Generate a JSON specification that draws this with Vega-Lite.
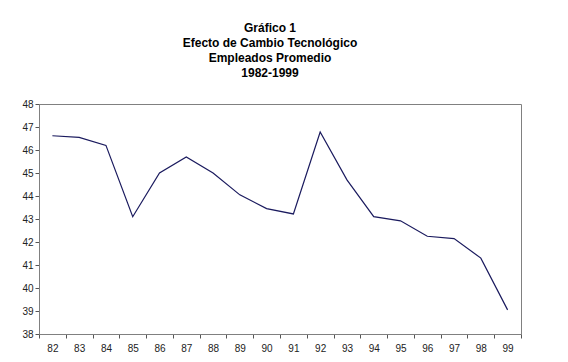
{
  "$schema": "https://vega.github.io/schema/vega-lite/v6.json",
  "autosize": "none",
  "width": 482,
  "height": 230,
  "padding": {"left": 39, "top": 104, "right": 47, "bottom": 28},
  "background": "white",
  "title": {
    "text": ["Gráfico 1", "Efecto de Cambio Tecnológico", "Empleados Promedio", "1982-1999"],
    "font": "Liberation Sans",
    "fontSize": 12,
    "fontWeight": "bold",
    "lineHeight": 15,
    "color": "#000000",
    "anchor": "middle",
    "baseline": "bottom",
    "offset": 7,
    "dx": -10
  },
  "data": {
    "values": [
      {"year": "82", "value": 46.62},
      {"year": "83", "value": 46.55},
      {"year": "84", "value": 46.2},
      {"year": "85", "value": 43.1},
      {"year": "86", "value": 45.0},
      {"year": "87", "value": 45.7},
      {"year": "88", "value": 45.0},
      {"year": "89", "value": 44.05},
      {"year": "90", "value": 43.45},
      {"year": "91", "value": 43.22},
      {"year": "92", "value": 46.78},
      {"year": "93", "value": 44.7},
      {"year": "94", "value": 43.1},
      {"year": "95", "value": 42.92},
      {"year": "96", "value": 42.25},
      {"year": "97", "value": 42.15},
      {"year": "98", "value": 41.3},
      {"year": "99", "value": 39.05}
    ]
  },
  "mark": {"type": "line", "color": "#1a1a5e", "strokeWidth": 1.2},
  "encoding": {
    "x": {
      "field": "year",
      "type": "ordinal",
      "bandPosition": 0.5,
      "scale": {"type": "band", "paddingInner": 0, "paddingOuter": 0},
      "axis": {
        "title": null,
        "labelAngle": 0,
        "tickBand": "extent",
        "labelFont": "Liberation Sans",
        "labelFontSize": 10,
        "labelColor": "#222222",
        "domainColor": "#808080",
        "tickColor": "#555555",
        "tickSize": 4,
        "labelPadding": 5
      }
    },
    "y": {
      "field": "value",
      "type": "quantitative",
      "scale": {"domain": [38, 48], "nice": false, "zero": false},
      "axis": {
        "title": null,
        "values": [38, 39, 40, 41, 42, 43, 44, 45, 46, 47, 48],
        "grid": false,
        "labelFont": "Liberation Sans",
        "labelFontSize": 10,
        "labelColor": "#222222",
        "domainColor": "#808080",
        "tickColor": "#555555",
        "tickSize": 4,
        "labelPadding": 2
      }
    }
  },
  "config": {
    "view": {"stroke": "#808080", "strokeWidth": 1}
  }
}
